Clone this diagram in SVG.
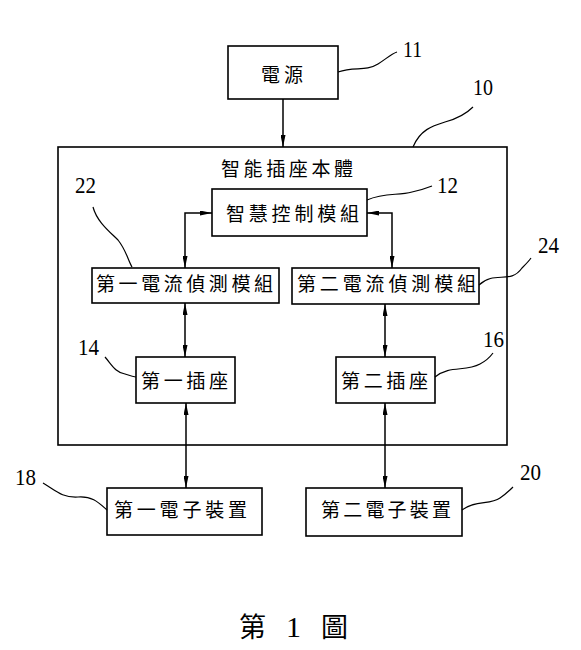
<svg xmlns="http://www.w3.org/2000/svg" width="581" height="650" viewBox="0 0 581 650">
<style>
.box{fill:#fff;stroke:#000;stroke-width:1.6}
.main{fill:none;stroke:#000;stroke-width:1.6}
.lbl{font-family:"Noto Sans CJK TC","Noto Sans CJK SC",sans-serif;font-size:19px;fill:#000;text-anchor:middle}
.num{font-family:"Liberation Serif","DejaVu Serif",serif;font-size:23px;fill:#000}
.lead{fill:none;stroke:#000;stroke-width:1.2}
.con{fill:none;stroke:#000;stroke-width:1.5}
.title{font-size:27px;fill:#000}
</style>
<defs>
<marker id="ah" viewBox="0 0 12 5" refX="12" refY="2.5" markerWidth="12" markerHeight="5" markerUnits="userSpaceOnUse" orient="auto-start-reverse">
<path d="M0,0 L12,2.5 L0,5 z" fill="#000"/>
</marker>
</defs>
<g id="n10">
<rect class="main" x="58" y="147" width="449" height="298"/>
<text class="lbl" x="287" y="176" textLength="132" lengthAdjust="spacing">智能插座本體</text>
<path class="lead" d="M413,147 C420,130 432,126 445,122 C460,118 467,113 473,107"/>
<text class="num" x="473" y="95" textLength="20" lengthAdjust="spacingAndGlyphs">10</text>
</g>
<g id="n11">
<rect class="box" x="228" y="46" width="110" height="53"/>
<text class="lbl" x="282" y="81.5" textLength="42" lengthAdjust="spacing">電源</text>
<path class="lead" d="M338,72 C355,66 365,72 378,64 C386,59 391,54 397,52"/>
<text class="num" x="403" y="57" textLength="19" lengthAdjust="spacingAndGlyphs">11</text>
</g>
<g id="n12">
<rect class="box" x="212" y="189" width="155" height="47"/>
<text class="lbl" x="292.5" y="221" textLength="133" lengthAdjust="spacing">智慧控制模組</text>
<path class="lead" d="M367,200 C385,192 398,196 412,192 C421,190 427,188 432,186"/>
<text class="num" x="437" y="193" textLength="21" lengthAdjust="spacingAndGlyphs">12</text>
</g>
<g id="n22">
<rect class="box" x="92" y="268" width="187" height="35"/>
<text class="lbl" x="184.5" y="291" textLength="177" lengthAdjust="spacing">第一電流偵測模組</text>
<path class="lead" d="M93,207 C97,222 110,232 118,240 C126,250 128,260 132,267"/>
<text class="num" x="75" y="193" textLength="21" lengthAdjust="spacingAndGlyphs">22</text>
</g>
<g id="n24">
<rect class="box" x="292" y="268" width="187" height="36"/>
<text class="lbl" x="386.5" y="291" textLength="179" lengthAdjust="spacing">第二電流偵測模組</text>
<path class="lead" d="M479,285 C495,270 510,285 522,268 C526,264 529,261 531,258"/>
<text class="num" x="538" y="253" textLength="21" lengthAdjust="spacingAndGlyphs">24</text>
</g>
<g id="n14">
<rect class="box" x="136" y="357" width="99" height="46"/>
<text class="lbl" x="184.5" y="388" textLength="87" lengthAdjust="spacing">第一插座</text>
<path class="lead" d="M105,357 C112,365 115,372 125,374 C131,376 134,377 136,377"/>
<text class="num" x="78" y="355" textLength="21" lengthAdjust="spacingAndGlyphs">14</text>
</g>
<g id="n16">
<rect class="box" x="336" y="357" width="99" height="46"/>
<text class="lbl" x="384.5" y="388" textLength="87" lengthAdjust="spacing">第二插座</text>
<path class="lead" d="M435,377 C450,365 465,372 480,364 C486,361 490,357 493,353"/>
<text class="num" x="483" y="347" textLength="21" lengthAdjust="spacingAndGlyphs">16</text>
</g>
<g id="n18">
<rect class="box" x="107" y="488" width="155" height="47"/>
<text class="lbl" x="180.5" y="517" textLength="133" lengthAdjust="spacing">第一電子裝置</text>
<path class="lead" d="M43,483 C55,490 62,498 78,497 C92,496 98,502 107,510"/>
<text class="num" x="15" y="485" textLength="21" lengthAdjust="spacingAndGlyphs">18</text>
</g>
<g id="n20">
<rect class="box" x="306" y="488" width="156" height="48"/>
<text class="lbl" x="386" y="517" textLength="130" lengthAdjust="spacing">第二電子裝置</text>
<path class="lead" d="M462,510 C475,500 490,505 500,498 C506,494 510,490 513,487"/>
<text class="num" x="520" y="480" textLength="21" lengthAdjust="spacingAndGlyphs">20</text>
</g>
<g id="connectors">
<path class="con" d="M283,99 V147" marker-end="url(#ah)"/>
<path class="con" d="M185,268 V213 H212" marker-start="url(#ah)" marker-end="url(#ah)"/>
<path class="con" d="M392,268 V213 H367" marker-start="url(#ah)" marker-end="url(#ah)"/>
<path class="con" d="M185,303 V357" marker-start="url(#ah)" marker-end="url(#ah)"/>
<path class="con" d="M385,304 V357" marker-start="url(#ah)" marker-end="url(#ah)"/>
<path class="con" d="M186,403 V488" marker-start="url(#ah)" marker-end="url(#ah)"/>
<path class="con" d="M385,403 V488" marker-start="url(#ah)" marker-end="url(#ah)"/>
</g>
<g id="caption">
<text class="title" y="637"><tspan x="239" font-family="Noto Sans CJK TC, sans-serif">第</tspan><tspan x="286" font-family="Liberation Serif, serif" font-size="30">1</tspan><tspan x="321" font-family="Noto Sans CJK TC, sans-serif">圖</tspan></text>
</g>
</svg>
